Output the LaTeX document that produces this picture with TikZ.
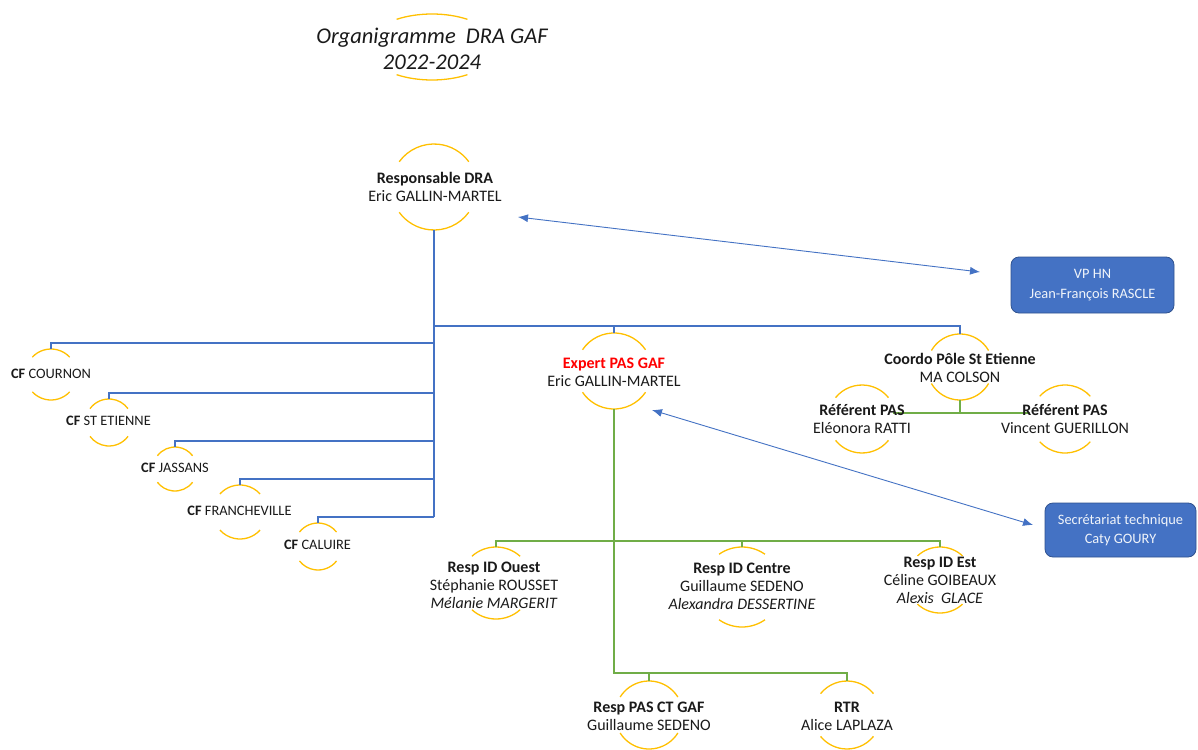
\documentclass[tikz,border=0pt]{standalone}
\usepackage{fontspec}
\setmainfont{Carlito}
\usetikzlibrary{arrows.meta}
\definecolor{ringc}{HTML}{FFC000}
\definecolor{treeblue}{HTML}{4472C4}
\definecolor{boxblue}{HTML}{4472C4}
\definecolor{boxline}{HTML}{2F528F}
\definecolor{grn}{HTML}{70AD47}
\definecolor{expred}{HTML}{FF0000}
\definecolor{ink}{HTML}{1A1A1A}
\newcommand\ringat[5]{% name, x, y, r, a
  \coordinate (#1-c) at (#2,#3);
  \coordinate (#1-n) at (#2,{#3-#4});
  \coordinate (#1-s) at (#2,{#3+#4});
  \draw[ring] (#1-c) ++(#5:#4) arc[start angle=#5,end angle={180-#5},radius=#4];
  \draw[ring] (#1-c) ++({180+#5}:#4) arc[start angle={180+#5},end angle={360-#5},radius=#4];
}
\tikzset{
  txt/.style={align=center, inner sep=0pt, text=ink, font=\fontsize{16}{18}\selectfont},
  cf/.style={inner sep=0pt, text=ink, font=\fontsize{14.4}{17}\selectfont},
  ttl/.style={align=center, inner sep=0pt, text=ink, font=\fontsize{22.5}{25.5}\selectfont\itshape},
  ring/.style={draw=ringc, line width=1.3pt},
  tree/.style={draw=treeblue, line width=1.1pt},
  grline/.style={draw=grn, line width=1.4pt},
  box/.style={draw=boxline, line width=0.8pt, fill=boxblue, rounded corners=8pt, text=white!92!boxblue,
    align=center, inner sep=0pt, font=\fontsize{14.4}{19.5}\selectfont},
  dbl/.style={draw=treeblue, line width=0.9pt, {Latex[length=10pt,width=8pt]}-{Latex[length=10pt,width=8pt]}},
}
\begin{document}
\begin{tikzpicture}[x=1pt,y=-1pt]
\fill[white] (0,0) rectangle (1198,749);
\useasboundingbox (0,0) rectangle (1198,749);

% title
\coordinate (title-c) at (432,47);
\draw[ring] (title-c) ++(57:65 and 33) arc[start angle=57,end angle=123,x radius=65,y radius=33];
\draw[ring] (title-c) ++(237:65 and 33) arc[start angle=237,end angle=303,x radius=65,y radius=33];
\node[ttl] (title) at (432,49) {Organigramme\ \ DRA GAF\\2022-2024};

% rings
\ringat{dra}{434}{187}{43}{36}
\ringat{expert}{614}{371}{38}{34}
\ringat{coordo}{960}{367}{33}{30}
\ringat{refL}{862}{419}{34}{39}
\ringat{refR}{1065}{419}{34}{42}
\ringat{ouest}{496}{583}{36}{48}
\ringat{centre}{742}{587}{40}{55}
\ringat{est}{940}{580}{33}{47}
\ringat{respct}{649}{715}{34}{32}
\ringat{rtr}{847}{715}{34}{39}
\ringat{cournon}{51}{374.5}{25.5}{43}
\ringat{stet}{109}{422.5}{23.5}{36}
\ringat{jass}{175}{469}{22}{37}
\ringat{franch}{240}{512}{27}{42}
\ringat{cal}{318}{546.5}{23.5}{38}

% blue tree
\coordinate (hub) at (434,326);
\draw[tree] (dra-s) -- (434,517);
\draw[tree] (434,343) -| (cournon-n);
\draw[tree] (434,393) -| (stet-n);
\draw[tree] (434,441) -| (jass-n);
\draw[tree] (434,479) -| (franch-n);
\draw[tree] (434,517) -| (cal-n);
\draw[tree] (hub) -| (coordo-n);
\draw[tree] (hub) -| (expert-n);

% green tree
\coordinate (gbus) at (614,541);
\coordinate (gbot) at (614,673);
\draw[grline] (expert-s) -- (gbot) -| (rtr-n);
\draw[grline] (649,673) -- (respct-n);
\draw[grline] (ouest-n) |- (940,541) -- (est-n);
\draw[grline] (742,541) -- (centre-n);
\draw[grline] (coordo-s) -- (960,413);
\draw[grline] (893,413) -- (1030,413);

% text nodes
\node[txt] (dra) at (435,187) {\textbf{Responsable DRA}\\Eric GALLIN-MARTEL};
\node[txt] (expert) at (614,372) {\textcolor{expred}{\textbf{Expert PAS GAF}}\\Eric GALLIN-MARTEL};
\node[txt] (coordo) at (960,367.5) {\textbf{Coordo Pôle St Etienne}\\MA COLSON};
\node[txt] (refL) at (862,419) {\textbf{Référent PAS}\\Eléonora RATTI};
\node[txt] (refR) at (1065,419) {\textbf{Référent PAS}\\Vincent GUERILLON};
\node[txt] (ouest) at (494,585) {\textbf{Resp ID Ouest}\\Stéphanie ROUSSET\\\textit{Mélanie MARGERIT}};
\node[txt] (centre) at (742,586) {\textbf{Resp ID Centre}\\Guillaume SEDENO\\\textit{Alexandra DESSERTINE}};
\node[txt] (est) at (940,580) {\textbf{Resp ID Est}\\Céline GOIBEAUX\\\textit{Alexis\ \ GLACE}};
\node[txt] (respct) at (649,716) {\textbf{Resp PAS CT GAF}\\Guillaume SEDENO};
\node[txt] (rtr) at (847,716) {\textbf{RTR}\\Alice LAPLAZA};
\node[cf] (cournon) at (51,374) {\textbf{CF} COURNON};
\node[cf] (stet) at (108.5,421) {\textbf{CF} ST ETIENNE};
\node[cf] (jass) at (175,468) {\textbf{CF} JASSANS};
\node[cf] (franch) at (239.5,511) {\textbf{CF} FRANCHEVILLE};
\node[cf] (cal) at (317.5,545) {\textbf{CF} CALUIRE};

% boxes
\node[box, minimum width=163pt, minimum height=56pt] (vp) at (1092.5,285) {VP HN\\Jean-François RASCLE};
\node[box, minimum width=151pt, minimum height=54pt] (sec) at (1120.5,530) {Secrétariat technique\\Caty GOURY};

% double arrows
\coordinate (a1s) at (518,217);
\coordinate (a1e) at (980,272);
\coordinate (a2s) at (652,410);
\coordinate (a2e) at (1033,525);
\draw[dbl] (a1s) -- (a1e);
\draw[dbl] (a2s) -- (a2e);
\end{tikzpicture}
\end{document}
